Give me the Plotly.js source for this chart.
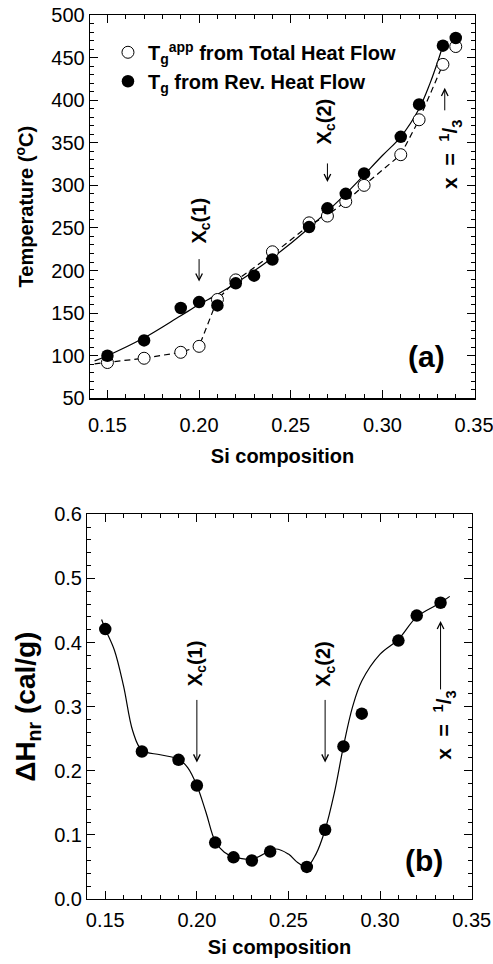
<!DOCTYPE html>
<html>
<head>
<meta charset="utf-8">
<script src="https://cdn.plot.ly/plotly-3.0.1.min.js"></script>
<style>
html,body{margin:0;padding:0;background:#fff;}
#chart{width:493px;height:964px;}
</style>
</head>
<body>
<div id="chart"></div>
<script>
// ---- Panel (a): Tg data ----
const xTotal = [0.15, 0.17, 0.19, 0.20, 0.21, 0.22, 0.24, 0.26, 0.27, 0.28, 0.29, 0.31, 0.32, 0.333, 0.34];
const tgApp  = [92, 97, 104, 111, 166, 189, 222, 256, 264, 281, 300, 336, 377, 442, 463];
const xRev   = [0.15, 0.17, 0.19, 0.20, 0.21, 0.22, 0.23, 0.24, 0.26, 0.27, 0.28, 0.29, 0.31, 0.32, 0.333, 0.34];
const tgRev  = [100, 118, 156, 163, 159, 185, 194, 213, 251, 273, 290, 314, 357, 395, 464, 473];

// fitted curves
const solidX = [0.143, 0.15, 0.17, 0.19, 0.20, 0.21, 0.22, 0.24, 0.26, 0.28, 0.30, 0.31, 0.32, 0.326, 0.3306, 0.3335];
const solidY = [94, 100, 121, 147, 160, 172, 185, 215, 250, 290, 335, 357, 390, 420, 448, 468];
const dashX  = [0.143, 0.15, 0.17, 0.19, 0.20, 0.21, 0.22, 0.24, 0.26, 0.27, 0.28, 0.29, 0.31, 0.32, 0.333];
const dashY  = [90.5, 92, 97, 104, 111, 166, 188, 219, 253, 265, 281, 300, 336, 377, 442];

// ---- Panel (b): Delta H_nr data ----
const xH  = [0.15, 0.17, 0.19, 0.20, 0.21, 0.22, 0.23, 0.24, 0.26, 0.27, 0.28, 0.29, 0.31, 0.32, 0.333];
const dH  = [0.421, 0.230, 0.217, 0.177, 0.088, 0.065, 0.060, 0.074, 0.050, 0.108, 0.238, 0.289, 0.403, 0.442, 0.462];
const fitHX = [0.148, 0.15, 0.155, 0.16, 0.165, 0.17, 0.18, 0.19, 0.195, 0.20, 0.205, 0.21, 0.215, 0.22, 0.23, 0.243, 0.25, 0.255, 0.26, 0.265, 0.27, 0.275, 0.28, 0.285, 0.29, 0.30, 0.31, 0.32, 0.333, 0.338];
const fitHY = [0.436, 0.421, 0.388, 0.332, 0.262, 0.232, 0.225, 0.218, 0.205, 0.177, 0.135, 0.090, 0.073, 0.066, 0.062, 0.078, 0.070, 0.057, 0.050, 0.070, 0.108, 0.165, 0.238, 0.300, 0.340, 0.382, 0.405, 0.440, 0.462, 0.472];

const nameApp = 'T<sub>g</sub><sup>app</sup> from Total Heat Flow';
const nameRev = 'T<sub>g</sub> from Rev. Heat Flow';

const FONT = 'Arial, "Liberation Sans", Helvetica, sans-serif';

const traces = [
  {x: dashX, y: dashY, mode: 'lines', line: {color: '#000', width: 1.2, dash: '6px,4px'}, showlegend: false, hoverinfo: 'skip', xaxis: 'x', yaxis: 'y'},
  {x: solidX, y: solidY, mode: 'lines', line: {color: '#000', width: 1.2, shape: 'spline', smoothing: 1}, showlegend: false, hoverinfo: 'skip', xaxis: 'x', yaxis: 'y'},
  {x: xTotal, y: tgApp, name: nameApp, mode: 'markers', marker: {symbol: 'circle', size: 12, color: '#fff', line: {color: '#000', width: 1}}, xaxis: 'x', yaxis: 'y'},
  {x: xRev, y: tgRev, name: nameRev, mode: 'markers', marker: {symbol: 'circle', size: 12.5, color: '#000', line: {color: '#000', width: 0}}, xaxis: 'x', yaxis: 'y'},
  {x: fitHX, y: fitHY, mode: 'lines', line: {color: '#000', width: 1.2, shape: 'spline', smoothing: 1}, showlegend: false, hoverinfo: 'skip', xaxis: 'x2', yaxis: 'y2'},
  {x: xH, y: dH, mode: 'markers', marker: {symbol: 'circle', size: 12.5, color: '#000'}, showlegend: false, xaxis: 'x2', yaxis: 'y2'}
];

function axisBase() {
  return {
    showline: true, linecolor: '#000', linewidth: 1.3, mirror: 'ticks',
    ticks: 'inside', ticklen: 8, tickwidth: 1, tickcolor: '#000',
    showgrid: false, zeroline: false, ticklabeloverflow: 'allow',
    tickfont: {family: FONT, size: 20, color: '#000'}
  };
}

const xa = Object.assign(axisBase(), {
  domain: [0.18256, 0.96349], range: [0.1405, 0.3505], dtick: 0.05, tick0: 0.15, tickformat: '.2f',
  ticklabelstandoff: 8,
  minor: {dtick: 0.01, ticks: 'inside', ticklen: 4, tickcolor: '#000', tickwidth: 1},
  title: {text: '<b>Si composition</b>', font: {family: FONT, size: 20, color: '#000'}, standoff: 14},
  anchor: 'y'
});
const ya = Object.assign(axisBase(), {
  domain: [0.58683, 0.98444], range: [50, 500], dtick: 50, tick0: 50,
  minor: {dtick: 10, ticks: 'inside', ticklen: 4, tickcolor: '#000', tickwidth: 1},
  title: {text: '<b>Temperature (<sup>o</sup>C)</b>', font: {family: FONT, size: 20, color: '#000'}, standoff: 12},
  anchor: 'x'
});
const xa2 = Object.assign(axisBase(), {
  domain: [0.17708, 0.95680], range: [0.1402, 0.35], dtick: 0.05, tick0: 0.15, tickformat: '.2f',
  ticklabelstandoff: 3,
  minor: {dtick: 0.01, ticks: 'inside', ticklen: 4, tickcolor: '#000', tickwidth: 1},
  title: {text: '<b>Si composition</b>', font: {family: FONT, size: 20, color: '#000'}, standoff: 9},
  anchor: 'y2'
});
const ya2 = Object.assign(axisBase(), {
  domain: [0.06743, 0.46649], range: [0, 0.6], dtick: 0.1, tick0: 0, tickformat: '.1f',
  minor: {dtick: 0.02, ticks: 'inside', ticklen: 4, tickcolor: '#000', tickwidth: 1},
  title: {text: '<b>ΔH<sub>nr</sub> (cal/g)</b>', font: {family: FONT, size: 28, color: '#000'}, standoff: 10},
  anchor: 'x2'
});

const txtFont = {family: FONT, size: 20, color: '#000'};
function label(text, x, y, xr, yr, size) {
  return {text: '<b>' + text + '</b>', x: x, y: y, xref: xr, yref: yr, showarrow: false, textangle: -90,
          font: Object.assign({}, txtFont, size ? {size: size} : {}), xanchor: 'center', yanchor: 'middle'};
}
function arrow(x, y, xr, yr, ay) {
  return {text: '', x: x, y: y, xref: xr, yref: yr, showarrow: true, ax: 0, ay: ay,
          arrowhead: 5, arrowsize: 1.3, arrowwidth: 1, arrowcolor: '#000', standoff: 0, startstandoff: 0};
}

const annotations = [
  // panel (a)
  label('X<sub>c</sub>(1)', 0.201, 258.6, 'x', 'y'),
  arrow(0.20, 187, 'x', 'y', -24),
  label('X<sub>c</sub>(2)', 0.269, 374.6, 'x', 'y'),
  arrow(0.27, 304, 'x', 'y', -20),
  label('x  =  <sup>1</sup>/<sub>3</sub>', 0.337, 336, 'x', 'y', 21),
  arrow(0.334, 414.5, 'x', 'y', 24),
  {text: '<b>(a)</b>', x: 0.324, y: 99, xref: 'x', yref: 'y', showarrow: false, font: {family: FONT, size: 30, color: '#000'}},
  // panel (b)
  label('X<sub>c</sub>(1)', 0.1996, 0.368, 'x2', 'y2'),
  arrow(0.20, 0.213, 'x2', 'y2', -64),
  label('X<sub>c</sub>(2)', 0.27, 0.367, 'x2', 'y2'),
  arrow(0.27, 0.213, 'x2', 'y2', -64),
  label('x  =  <sup>1</sup>/<sub>3</sub>', 0.335, 0.2705, 'x2', 'y2', 21),
  arrow(0.333, 0.4337, 'x2', 'y2', 70),
  {text: '<b>(b)</b>', x: 0.324, y: 0.0606, xref: 'x2', yref: 'y2', showarrow: false, font: {family: FONT, size: 30, color: '#000'}}
];

const layout = {
  width: 493, height: 964,
  margin: {l: 0, r: 0, t: 0, b: 0},
  paper_bgcolor: '#fff', plot_bgcolor: '#fff',
  font: {family: FONT, color: '#000'},
  xaxis: xa, yaxis: ya, xaxis2: xa2, yaxis2: ya2,
  showlegend: true,
  legend: {x: 0.219, y: 0.966, xanchor: 'left', yanchor: 'top', bgcolor: 'rgba(0,0,0,0)', borderwidth: 0,
           font: {family: FONT, size: 20, color: '#000', weight: 'bold'}, tracegroupgap: 0},
  annotations: annotations
};

Plotly.newPlot('chart', traces, layout, {staticPlot: true, displayModeBar: false});
</script>
</body>
</html>
